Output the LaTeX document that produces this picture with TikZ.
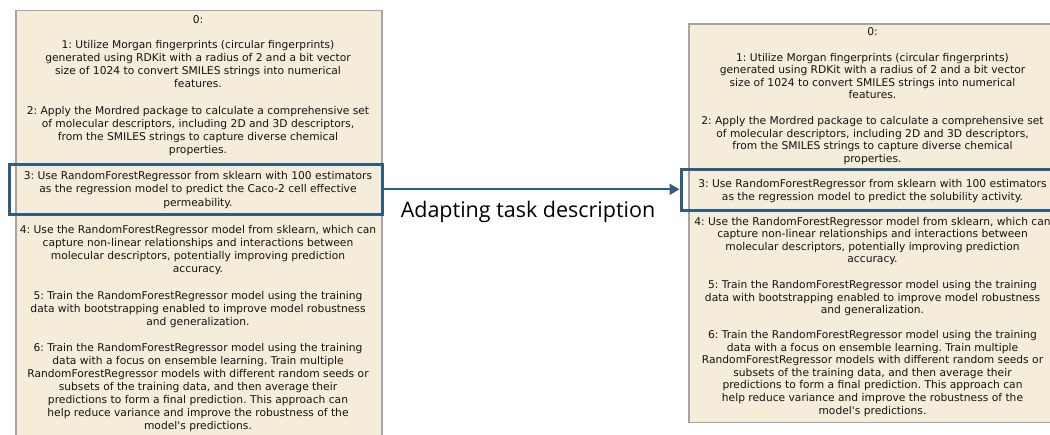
\documentclass[tikz,border=0pt]{standalone}
\usepackage{fontspec}
\newfontfamily\boxfont{DejaVu Sans}
\newfontfamily\labelfont{Open Sans}
\usetikzlibrary{arrows.meta}
\definecolor{boxfill}{RGB}{245,236,218}
\definecolor{boxline}{RGB}{165,165,165}
\definecolor{hlblue}{RGB}{46,93,130}
\definecolor{txt}{RGB}{20,20,20}
\frenchspacing
\begin{document}
\begin{tikzpicture}[x=1pt,y=-1pt,
  panel/.style={draw=boxline, line width=1.2pt, fill=boxfill, rectangle, inner sep=0pt},
  para/.style={align=center, inner sep=0pt, text=txt,
    font=\boxfont\frenchspacing\fontsize{10.7}{13.1}\selectfont,
    execute at begin node=\strut, execute at end node=\strut},
  rpara/.style={para, font=\boxfont\frenchspacing\fontsize{10.7}{12.55}\selectfont},
  hl/.style={draw=hlblue, line width=3pt, rectangle, inner sep=0pt},
  conn/.style={draw=hlblue, line width=2pt, -{Triangle[length=10pt,width=11pt]}},
  lbl/.style={font=\labelfont\fontsize{21.5}{26}\selectfont, text=black, anchor=base, inner sep=0pt}]
\clip (0,0) rectangle (1050,435);
% panels
\node[panel, minimum width=366pt, minimum height=440pt] (lbox) at (199,230.7) {};
\node[panel, minimum width=366pt, minimum height=398.3pt] (rbox) at (872,223.15) {};
% highlights
\node[hl, minimum width=373pt, minimum height=50pt] (lhl) at (195.5,189.3) {};
\node[hl, minimum width=381pt, minimum height=41pt] (rhl) at (871.5,190.5) {};
% left text
\node[para] (l0) at (198,20.9) {0:};
\node[para] (l1) at (198,66.2) {1: Utilize Morgan fingerprints (circular fingerprints)\\generated using RDKit with a radius of 2 and a bit vector\\size of 1024 to convert SMILES strings into numerical\\features.};
\node[para] (l2) at (198,131.9) {2: Apply the Mordred package to calculate a comprehensive set\\of molecular descriptors, including 2D and 3D descriptors,\\from the SMILES strings to capture diverse chemical\\properties.};
\node[para] (l3) at (198,190.9) {3: Use RandomForestRegressor from sklearn with 100 estimators\\as the regression model to predict the Caco-2 cell effective\\permeability.};
\node[para] (l4) at (198,250.6) {4: Use the RandomForestRegressor model from sklearn, which can\\capture non-linear relationships and interactions between\\molecular descriptors, potentially improving prediction\\accuracy.};
\node[para] (l5) at (198,310.1) {5: Train the RandomForestRegressor model using the training\\data with bootstrapping enabled to improve model robustness\\and generalization.};
\node[para] (l6) at (198,388.4) {6: Train the RandomForestRegressor model using the training\\data with a focus on ensemble learning. Train multiple\\RandomForestRegressor models with different random seeds or\\subsets of the training data, and then average their\\predictions to form a final prediction. This approach can\\help reduce variance and improve the robustness of the\\model\textquotesingle s predictions.};
% right text
\node[rpara] (r0) at (872.5,32.6) {0:};
\node[rpara] (r1) at (872.5,77.9) {1: Utilize Morgan fingerprints (circular fingerprints)\\generated using RDKit with a radius of 2 and a bit vector\\size of 1024 to convert SMILES strings into numerical\\features.};
\node[rpara] (r2) at (872.5,141.2) {2: Apply the Mordred package to calculate a comprehensive set\\of molecular descriptors, including 2D and 3D descriptors,\\from the SMILES strings to capture diverse chemical\\properties.};
\node[rpara] (r3) at (872.5,191.6) {3: Use RandomForestRegressor from sklearn with 100 estimators\\as the regression model to predict the solubility activity.};
\node[rpara] (r4) at (872.5,241.7) {4: Use the RandomForestRegressor model from sklearn, which can\\capture non-linear relationships and interactions between\\molecular descriptors, potentially improving prediction\\accuracy.};
\node[rpara] (r5) at (872.5,299.1) {5: Train the RandomForestRegressor model using the training\\data with bootstrapping enabled to improve model robustness\\and generalization.};
\node[rpara] (r6) at (872.5,374.2) {6: Train the RandomForestRegressor model using the training\\data with a focus on ensemble learning. Train multiple\\RandomForestRegressor models with different random seeds or\\subsets of the training data, and then average their\\predictions to form a final prediction. This approach can\\help reduce variance and improve the robustness of the\\model\textquotesingle s predictions.};
% connector
\draw[conn] (lhl.east) -- (lhl.east -| rhl.west);
\node[lbl] (lab) at (528,217.3) {Adapting task description};
\end{tikzpicture}
\end{document}
